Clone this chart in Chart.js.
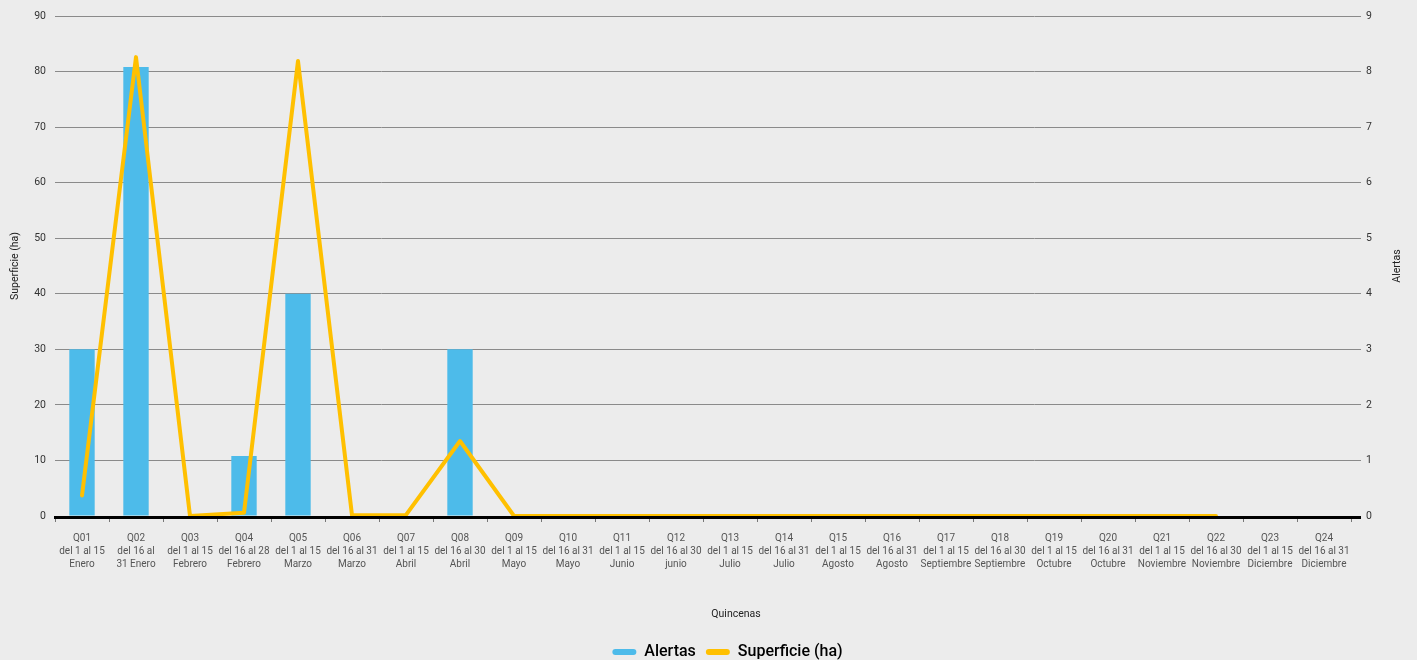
<!DOCTYPE html>
<html>
<head>
<meta charset="utf-8">
<script src="https://cdn.jsdelivr.net/npm/chart.js@4/dist/chart.umd.min.js"></script>
<style>
  html, body { margin: 0; padding: 0; background: #ececec; }
  #wrap { position: relative; width: 1417px; height: 660px; }
</style>
</head>
<body>
<div id="wrap"><canvas id="grafico"></canvas></div>
<script>
// Quincenas del año: código, rango de días y mes
const quincenas = ['Q01','Q02','Q03','Q04','Q05','Q06','Q07','Q08','Q09','Q10','Q11','Q12',
                   'Q13','Q14','Q15','Q16','Q17','Q18','Q19','Q20','Q21','Q22','Q23','Q24'];
const rangos = ['del 1 al 15','del 16 al','del 1 al 15','del 16 al 28','del 1 al 15','del 16 al 31',
                'del 1 al 15','del 16 al 30','del 1 al 15','del 16 al 31','del 1 al 15','del 16 al 30',
                'del 1 al 15','del 16 al 31','del 1 al 15','del 16 al 31','del 1 al 15','del 16 al 30',
                'del 1 al 15','del 16 al 31','del 1 al 15','del 16 al 30','del 1 al 15','del 16 al 31'];
const meses = ['Enero','31 Enero','Febrero','Febrero','Marzo','Marzo','Abril','Abril','Mayo','Mayo',
               'Junio','junio','Julio','Julio','Agosto','Agosto','Septiembre','Septiembre',
               'Octubre','Octubre','Noviembre','Noviembre','Diciembre','Diciembre'];

// Número de alertas por quincena (eje derecho)
const alertas = [3, 8.08, 0, 1.08, 4, 0, 0, 3, 0, 0, 0, 0, 0, 0, 0, 0, 0, 0, 0, 0, 0, 0, 0, 0];
// Superficie afectada en hectáreas (eje izquierdo)
const superficie = [3.7, 82.6, 0, 0.6, 81.9, 0.15, 0.2, 13.5, 0, 0, 0, 0, 0, 0, 0, 0, 0, 0, 0, 0, 0, 0, null, null];

// Escalas
const haMax = 90, haPaso = 10;
const alertasMax = 9, alertasPaso = 1;

const etiquetas = quincenas.map((q, i) => [q, rangos[i], meses[i]]);

const AZUL = '#4dbbea';
const AMARILLO = '#ffc000';
const FUENTE = 'Roboto, "Noto Sans", sans-serif';

// Ajustes finos: línea base, títulos de ejes y posición de la leyenda
const adornos = {
  id: 'adornos',
  afterLayout(chart) {
    const x = chart.scales.x;
    x.right = chart.chartArea.right - 10;
    x.width = x.right - x.left;
    x.configure();
    const lg = chart.legend;
    lg.left += 19; lg.right += 19;
    lg.top += 10; lg.bottom += 10;
  },
  afterDatasetsDraw(chart) {
    const {ctx, chartArea} = chart;
    const y0 = chart.scales.y.getPixelForValue(0) + 1.5;
    ctx.save();
    ctx.strokeStyle = '#000';
    ctx.lineWidth = 3;
    ctx.beginPath();
    ctx.moveTo(chartArea.left - 1, y0);
    ctx.lineTo(chartArea.right, y0);
    ctx.stroke();
    ctx.restore();
  },
  afterDraw(chart) {
    const {ctx, chartArea} = chart;
    ctx.save();
    ctx.fillStyle = '#222';
    ctx.font = '10.5px ' + FUENTE;
    ctx.textAlign = 'center';
    ctx.textBaseline = 'middle';
    ctx.fillText('Quincenas', 736, 614);
    ctx.translate(1397.5, (chartArea.top + chartArea.bottom) / 2);
    ctx.rotate(-Math.PI / 2);
    ctx.fillText('Alertas', 0, 0);
    ctx.restore();
  }
};

new Chart(document.getElementById('grafico'), {
  data: {
    labels: etiquetas,
    datasets: [
      {
        type: 'bar',
        label: 'Alertas',
        data: alertas,
        yAxisID: 'y1',
        backgroundColor: AZUL,
        borderWidth: 0,
        barPercentage: 0.47,
        categoryPercentage: 1,
        order: 1
      },
      {
        type: 'line',
        label: 'Superficie (ha)',
        data: superficie,
        yAxisID: 'y',
        borderColor: AMARILLO,
        backgroundColor: AMARILLO,
        borderWidth: 4,
        borderJoinStyle: 'round',
        borderCapStyle: 'round',
        pointRadius: 0,
        pointHoverRadius: 0,
        tension: 0,
        spanGaps: false,
        order: 0
      }
    ]
  },
  options: {
    responsive: true,
    maintainAspectRatio: false,
    animation: false,
    layout: { padding: { top: 16, left: 0, right: 0, bottom: 0 } },
    plugins: {
      tooltip: { enabled: false },
      legend: {
        position: 'bottom',
        labels: {
          font: { family: FUENTE, size: 16, weight: '500' },
          color: '#111',
          boxWidth: 24,
          boxHeight: 6,
          padding: 10,
          useBorderRadius: true,
          borderRadius: 3,
          sort: (a, b) => a.datasetIndex - b.datasetIndex,
          generateLabels: (chart) => chart.data.datasets.map((ds, i) => ({
            text: ds.label,
            fillStyle: ds.type === 'bar' ? ds.backgroundColor : ds.borderColor,
            strokeStyle: 'rgba(0,0,0,0)',
            lineWidth: 0,
            borderRadius: 3,
            hidden: !chart.isDatasetVisible(i),
            datasetIndex: i
          }))
        }
      }
    },
    scales: {
      x: {
        type: 'category',
        offset: true,
        grid: {
          display: true,
          drawOnChartArea: false,
          drawTicks: true,
          tickLength: 6,
          color: '#777',
          offset: true
        },
        border: { display: false },
        ticks: {
          autoSkip: false,
          maxRotation: 0,
          minRotation: 0,
          padding: 10,
          color: '#555',
          font: { family: FUENTE, size: 10, lineHeight: 1.3 }
        },
        afterFit(scale) { scale.height = 108; }
      },
      y: {
        position: 'left',
        min: 0,
        max: haMax,
        grid: {
          color: (c) => c.tick && c.tick.value === 0 ? 'rgba(0,0,0,0)' : '#8a8a8a',
          lineWidth: 1,
          drawTicks: false
        },
        border: { display: false },
        ticks: {
          stepSize: haPaso,
          padding: 9,
          color: '#333',
          font: { family: FUENTE, size: 10.5 }
        },
        title: {
          display: true,
          text: 'Superficie (ha)',
          color: '#222',
          font: { family: FUENTE, size: 10.5 },
          padding: { top: 9, bottom: 0 }
        },
        afterFit(scale) { scale.width = 55; }
      },
      y1: {
        position: 'right',
        min: 0,
        max: alertasMax,
        grid: { drawOnChartArea: false, drawTicks: false },
        border: { display: false },
        ticks: {
          stepSize: alertasPaso,
          padding: 5,
          color: '#333',
          font: { family: FUENTE, size: 10.5 }
        },
        afterFit(scale) { scale.width = 56; }
      }
    }
  },
  plugins: [adornos]
});
</script>
</body>
</html>
